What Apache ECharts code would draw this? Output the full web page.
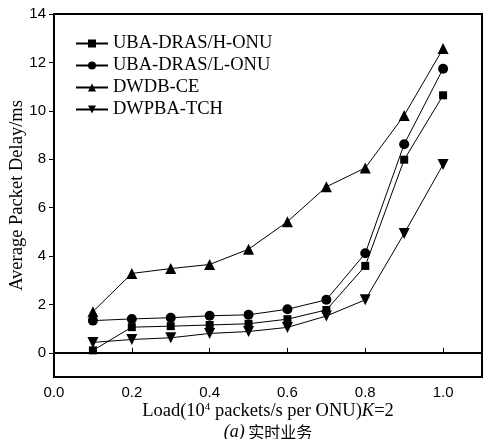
<!DOCTYPE html>
<html>
<head>
<meta charset="utf-8">
<script src="https://cdn.jsdelivr.net/npm/echarts@6/dist/echarts.min.js"></script>
<style>
  html, body { margin: 0; padding: 0; background: #fff; }
  #main { width: 485px; height: 439px; }
</style>
</head>
<body>
<div id="main"></div>
<script>
// 负载 (x)
var loads = [0.1, 0.2, 0.3, 0.4, 0.5, 0.6, 0.7, 0.8, 0.9, 1.0];
var names = ['UBA-DRAS/H-ONU', 'UBA-DRAS/L-ONU', 'DWDB-CE', 'DWPBA-TCH'];
// 各算法的平均时延
var hOnu = [0.10, 1.06, 1.10, 1.15, 1.20, 1.39, 1.77, 3.59, 7.98, 10.64];
var lOnu = [1.33, 1.40, 1.45, 1.53, 1.57, 1.80, 2.19, 4.11, 8.62, 11.74];
var dwdb = [1.70, 3.28, 3.48, 3.65, 4.28, 5.42, 6.86, 7.64, 9.81, 12.57];
var dwpba = [0.43, 0.55, 0.62, 0.80, 0.88, 1.05, 1.52, 2.19, 4.93, 7.78];
var xTicks = [0, 0.2, 0.4, 0.6, 0.8, 1.0];
var yTicks = [0, 2, 4, 6, 8, 10, 12, 14];

var symbols = ['rect', 'circle', 'triangle', 'path://M0,0 L10,0 L5,9 Z'];
var sizes = [8, 10, 11, 11];
var datas = [hOnu, lOnu, dwdb, dwpba];

function pairs(ys) {
    var out = [];
    for (var i = 0; i < loads.length; i++) {
        out.push([loads[i], ys[i]]);
    }
    return out;
}

var series = [];
for (var i = 0; i < names.length; i++) {
    series.push({
        name: names[i],
        type: 'line',
        data: pairs(datas[i]),
        symbol: symbols[i],
        symbolSize: sizes[i],
        showAllSymbol: true,
        lineStyle: {color: '#000', width: 1},
        itemStyle: {color: '#000'},
        animation: false
    });
}

var myChart = echarts.init(document.getElementById('main'));
myChart.setOption({
    animation: false,
    grid: {
        left: 54, right: 3, top: 14, bottom: 62,
        outerBoundsMode: 'none',
        containLabel: false,
        show: true, borderColor: '#000', borderWidth: 2
    },
    legend: {
        orient: 'vertical',
        left: 70,
        top: 29,
        itemWidth: 32,
        itemHeight: 10,
        itemGap: 3,
        data: names,
        textStyle: {fontFamily: 'Liberation Serif', fontSize: 18.5, color: '#000'}
    },
    xAxis: {
        type: 'value',
        min: 0,
        max: 1.1,
        axisLine: {lineStyle: {color: '#000', width: 2}},
        axisTick: {inside: true, length: 5, customValues: xTicks, lineStyle: {color: '#000'}},
        axisLabel: {
            customValues: xTicks,
            formatter: function (v) { return v.toFixed(1); },
            fontFamily: 'Liberation Sans', fontSize: 15, color: '#000', margin: 8
        },
        splitLine: {show: false},
        name: '{n|Load(10}{s|4}{n| packets/s per ONU)}{i|K}{n|=2}',
        nameLocation: 'middle',
        nameGap: 25,
        nameMoveOverlap: false,
        nameTextStyle: {
            rich: {
                n: {fontFamily: 'Liberation Serif', fontSize: 18.5, color: '#000'},
                s: {fontFamily: 'Liberation Serif', fontSize: 11, color: '#000', verticalAlign: 'top', padding: [0, 0, 8, 0]},
                i: {fontFamily: 'Liberation Serif', fontSize: 18.5, fontStyle: 'italic', color: '#000'}
            }
        }
    },
    yAxis: {
        type: 'value',
        min: -1,
        max: 14,
        axisLine: {lineStyle: {color: '#000', width: 2}},
        axisTick: {length: 5, customValues: yTicks, lineStyle: {color: '#000'}},
        axisLabel: {
            customValues: yTicks,
            fontFamily: 'Liberation Sans', fontSize: 15, color: '#000', margin: 8
        },
        splitLine: {show: false},
        name: 'Average Packet Delay/ms',
        nameLocation: 'middle',
        nameGap: 27,
        nameMoveOverlap: false,
        nameTextStyle: {fontFamily: 'Liberation Serif', fontSize: 18.5, color: '#000'}
    },
    graphic: [{
        type: 'text',
        x: 268,
        y: 423,
        style: {
            text: '{i|(a)} {c|实时业务}',
            align: 'center',
            rich: {
                i: {fontFamily: 'Liberation Serif', fontSize: 18, fontStyle: 'italic', fill: '#000'},
                c: {fontFamily: 'Noto Sans CJK SC', fontSize: 16, fill: '#000'}
            }
        }
    }],
    series: series
});
</script>
</body>
</html>
